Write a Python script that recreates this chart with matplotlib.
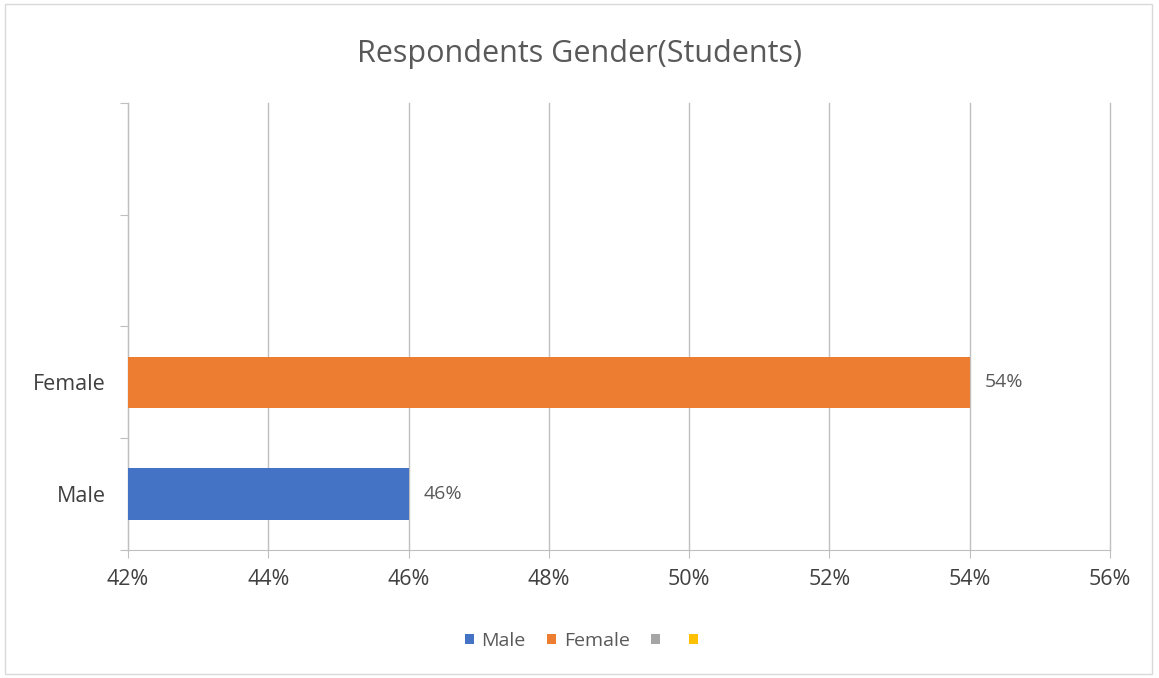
import matplotlib
matplotlib.use("Agg")
import matplotlib.pyplot as plt
from matplotlib.patches import Rectangle, Patch

categories = ["Male", "Female", "", ""]
values = [46, 54]
series_names = ["Male", "Female", "", ""]
colors = ["#4472C4", "#ED7D31", "#A5A5A5", "#FFC000"]
x_ticks = [42, 44, 46, 48, 50, 52, 54, 56]
title = "Respondents Gender(Students)"

plt.rcParams["font.family"] = ["Open Sans", "DejaVu Sans"]

fig = plt.figure(figsize=(11.59, 6.78), dpi=100)
ax = fig.add_axes([0.1104, 0.1888, 0.8473, 0.6593])

# outer chart border
fig.patches.append(Rectangle((0.004, 0.006), 0.99, 0.988, transform=fig.transFigure,
                             fill=False, edgecolor="#d9d9d9", linewidth=1))

for i, v in enumerate(values):
    ax.barh(i + 0.5, v - 42, left=42, height=0.46, color=colors[i], zorder=3)
    ax.text(v + 0.22, i + 0.5, f"{v}%", va="center", ha="left", fontsize=14, color="#595959")

ax.set_xlim(42, 56)
ax.set_ylim(0, 4)
ax.set_xticks(x_ticks)
ax.set_xticklabels([f"{t}%" for t in x_ticks], fontsize=15.5, color="#404040")
ax.set_yticks([0, 1, 2, 3, 4])
ax.set_yticklabels([])
ax.set_yticks([0.5, 1.5, 2.5, 3.5], minor=True)
ax.set_yticklabels(categories, minor=True, fontsize=15.5, color="#404040")
ax.tick_params(axis="y", which="minor", length=0, pad=16)
ax.tick_params(axis="y", which="major", length=6, color="#bfbfbf", direction="out")
ax.tick_params(axis="x", length=6, color="#bfbfbf", direction="out", pad=8)

ax.grid(axis="x", color="#bfbfbf", linewidth=1, zorder=0)
for gl in ax.get_xgridlines():
    gl.set_clip_on(False)
for s in ["top", "right"]:
    ax.spines[s].set_visible(False)
for s in ["left", "bottom"]:
    ax.spines[s].set_color("#bfbfbf")

fig.text(0.5, 0.921, title, ha="center", va="center", fontsize=22, color="#595959")

handles = [Patch(facecolor=c, edgecolor="none") for c in colors]
fig.legend(handles, series_names, loc="center", bbox_to_anchor=(0.505, 0.055), ncol=4,
           frameon=False, fontsize=14, labelcolor="#595959", handlelength=0.45,
           handleheight=0.45, handletextpad=0.4, columnspacing=1.1)

fig.savefig("out.png", dpi=100)
